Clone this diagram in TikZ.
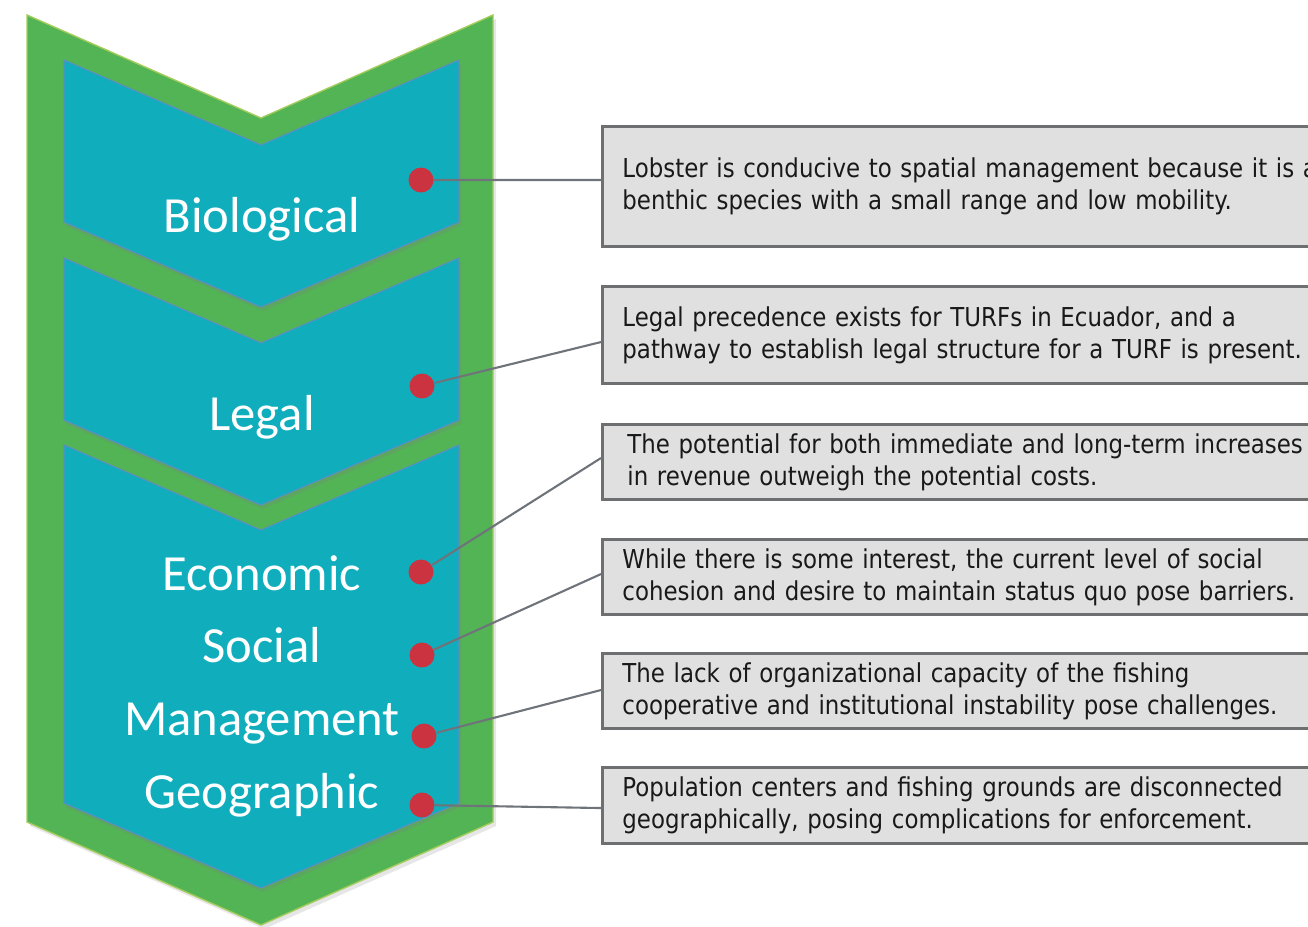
\documentclass[tikz,border=0pt]{standalone}
\usepackage{fontspec}
\usepackage{tikz}
\usetikzlibrary{shadows}
\setmainfont{Carlito}
\newfontfamily\notefont[FakeStretch=0.88]{DejaVu Sans}

\definecolor{chevgreen}{HTML}{52B455}
\definecolor{chevrim}{HTML}{A3CC5C}
\definecolor{chevteal}{HTML}{10AEBD}
\definecolor{chevedge}{HTML}{5B8EC4}
\definecolor{dotred}{HTML}{CC3340}
\definecolor{linkgray}{HTML}{6E747A}
\definecolor{boxgray}{HTML}{E0E0E0}
\definecolor{boxedge}{HTML}{6D6F71}

\tikzset{
  lbl/.style={anchor=base, text=white, inner sep=0pt, font=\fontsize{14.4}{16}\selectfont},
  dot/.style={circle, fill=dotred, inner sep=0pt, minimum size=0.25cm},
  link/.style={draw=linkgray, line width=0.6pt},
  infobox/.style={rectangle, draw=boxedge, line width=0.8pt, fill=boxgray, anchor=north west,
    text width=7.6cm, inner xsep=0.2cm, inner ysep=0pt, align=left, text=black!90,
    font=\notefont\fontsize{7.4}{9.1}\selectfont},
  chev/.style={fill=chevteal, draw=chevedge, line width=0.3pt,
    drop shadow={shadow xshift=0.02cm, shadow yshift=-0.04cm, opacity=0.25}},
}

\begin{document}
\begin{tikzpicture}[x=0.01cm, y=-0.01cm]
\useasboundingbox (0,0) rectangle (1308,926);
\clip (0,0) rectangle (1308,926);

% outer arrow
\draw[fill=chevgreen, draw=chevrim, line width=0.4pt,
  drop shadow={shadow xshift=0.03cm, shadow yshift=-0.04cm, opacity=0.2}]
  (27,15) -- (261,118) -- (493,15) -- (493,822) -- (261,925) -- (27,822) -- cycle;

% inner chevrons
\foreach \t/\b in {60/222, 258/420, 445/803}
  \draw[chev] (64,\t) -- (261,\t+85) -- (459,\t) -- (459,\b) -- (261,\b+85) -- (64,\b) -- cycle;

\node[lbl] (bio) at (262,232) {Biological};
\node[lbl] (leg) at (262,430) {Legal};
\node[lbl] (eco) at (262,590) {Economic};
\node[lbl] (soc) at (262,662) {Social};
\node[lbl] (man) at (262,735) {Management};
\node[lbl] (geo) at (262,808) {Geographic};

\node[dot] (bioDot) at (421,180) {};
\node[dot] (legDot) at (422,386) {};
\node[dot] (ecoDot) at (421,572) {};
\node[dot] (socDot) at (422,655) {};
\node[dot] (manDot) at (424,736) {};
\node[dot] (geoDot) at (422,805) {};

% notes on the right
\node[infobox, minimum height=1.2cm] (bioBox) at (601,125)
  {Lobster is conducive to spatial management because it is a\\
   benthic species with a small range and low mobility.};
\node[infobox, minimum height=0.97cm] (legBox) at (601,285)
  {Legal precedence exists for TURFs in Ecuador, and a\\
   pathway to establish legal structure for a TURF is present.};
\node[infobox, minimum height=0.75cm] (ecoBox) at (601,423)
  {\hspace{0.05cm}The potential for both immediate and long-term increases\\
   \hspace{0.05cm}in revenue outweigh the potential costs.};
\node[infobox, minimum height=0.75cm] (socBox) at (601,538)
  {While there is some interest, the current level of social\\
   cohesion and desire to maintain status quo pose barriers.};
\node[infobox, minimum height=0.75cm] (manBox) at (601,652)
  {The lack of organizational capacity of the fishing\\
   cooperative and institutional instability pose challenges.};
\node[infobox, minimum height=0.76cm] (geoBox) at (601,766)
  {Population centers and fishing grounds are disconnected\\
   geographically, posing complications for enforcement.};

\draw[link] (bioDot) -- ([yshift=-0.55cm]bioBox.north west);
\draw[link] (legDot) -- ([yshift=-0.57cm]legBox.north west);
\draw[link] (ecoDot) -- ([yshift=-0.35cm]ecoBox.north west);
\draw[link] (socDot) -- ([yshift=-0.36cm]socBox.north west);
\draw[link] (manDot) -- ([yshift=-0.38cm]manBox.north west);
\draw[link] (geoDot) -- ([yshift=-0.42cm]geoBox.north west);

\end{tikzpicture}
\end{document}
